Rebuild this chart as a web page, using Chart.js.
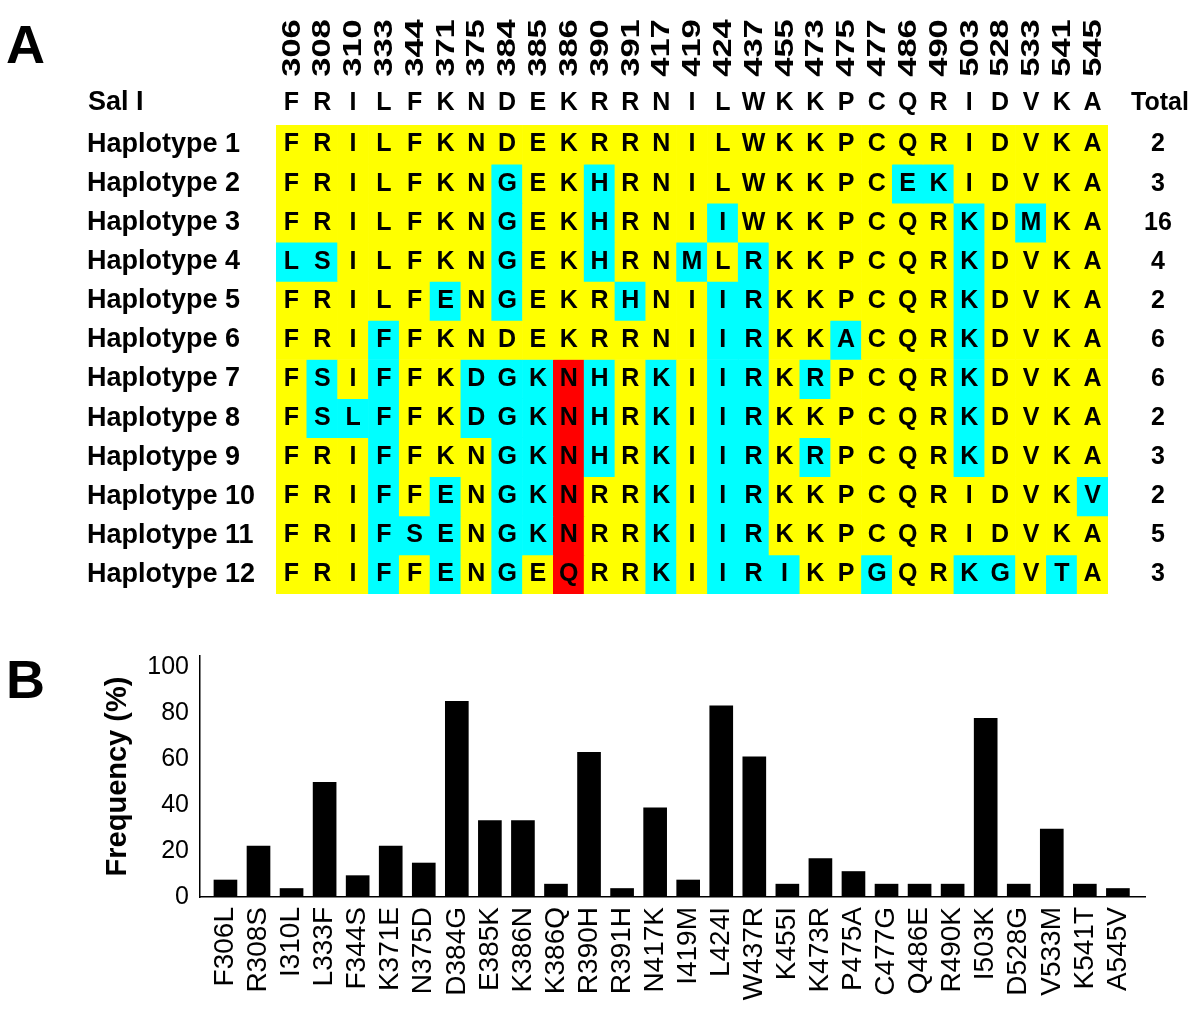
<!DOCTYPE html>
<html>
<head>
<meta charset="utf-8">
<script src="https://cdn.jsdelivr.net/npm/chart.js"></script>
<style>
  body { margin: 0; background: #fff; }
  #wrap { position: relative; width: 1200px; height: 1014px; }
  canvas { position: absolute; left: 0; }
  #tableChart { top: 0; }
  #freqChart { top: 620px; }
</style>
</head>
<body>
<div id="wrap">
  <canvas id="tableChart" width="1200" height="620"></canvas>
  <canvas id="freqChart" width="1200" height="394"></canvas>
</div>
<script>
// Panel A data
const positions = ['306','308','310','333','344','371','375','384','385','386','390','391','417','419','424','437','455','473','475','477','486','490','503','528','533','541','545'];
const salI = 'FRILFKNDEKRRNILWKKPCQRIDVKA'.split('');
const haplotypes = ['Haplotype 1','Haplotype 2','Haplotype 3','Haplotype 4','Haplotype 5','Haplotype 6',
                    'Haplotype 7','Haplotype 8','Haplotype 9','Haplotype 10','Haplotype 11','Haplotype 12'];
const sequences = [
    'FRILFKNDEKRRNILWKKPCQRIDVKA',
    'FRILFKNGEKHRNILWKKPCEKIDVKA',
    'FRILFKNGEKHRNIIWKKPCQRKDMKA',
    'LSILFKNGEKHRNMLRKKPCQRKDVKA',
    'FRILFENGEKRHNIIRKKPCQRKDVKA',
    'FRIFFKNDEKRRNIIRKKACQRKDVKA',
    'FSIFFKDGKNHRKIIRKRPCQRKDVKA',
    'FSLFFKDGKNHRKIIRKKPCQRKDVKA',
    'FRIFFKNGKNHRKIIRKRPCQRKDVKA',
    'FRIFFENGKNRRKIIRKKPCQRIDVKV',
    'FRIFSENGKNRRKIIRKKPCQRIDVKA',
    'FRIFFENGEQRRKIIRIKPGQRKGVTA'
];
const totals = [2, 3, 16, 4, 2, 6, 6, 2, 3, 2, 5, 3];

// Panel B data
const mutations = ['F306L','R308S','I310L','L333F','F344S','K371E','N375D','D384G','E385K','K386N','K386Q','R390H','R391H','N417K',
                   'I419M','L424I','W437R','K455I','K473R','P475A','C477G','Q486E','R490K','I503K','D528G','V533M','K541T','A545V'];
const frequency = [7.4, 22.2, 3.7, 50, 9.3, 22.2, 14.8, 85.2, 33.3, 33.3, 5.6, 63.0, 3.7, 38.9,
                   7.4, 83.3, 61.1, 5.6, 16.7, 11.1, 5.6, 5.6, 5.6, 77.8, 5.6, 29.6, 5.6, 3.7];

Chart.defaults.font.family = '"Liberation Sans", Arial, Helvetica, sans-serif';
Chart.defaults.color = '#000';

function cellColor(letter, i) {
    if (letter === salI[i]) return '#ffff00';
    return positions[i] === '386' ? '#ff0000' : '#00ffff';
}

const rowDatasets = sequences.map((seq, r) => {
    let letters = seq.split('');
    return {
        data: letters.map((ch, i) => ({ x: i, y: [r, r + 1] })),
        backgroundColor: letters.map((ch, i) => cellColor(ch, i)),
        borderWidth: 0,
        grouped: false,
        barPercentage: 1,
        categoryPercentage: 1
    };
});

// draws the letters, headings and totals on top of the cells
const tableText = {
    id: 'tableText',
    afterDatasetsDraw(chart) {
        const ctx = chart.ctx;
        const xs = chart.scales.x, ys = chart.scales.y;
        ctx.save();
        ctx.fillStyle = '#000';

        ctx.font = 'bold 54px "Liberation Sans", Arial';
        ctx.textAlign = 'left';
        ctx.textBaseline = 'alphabetic';
        ctx.fillText('A', 6, 63);
        ctx.textBaseline = 'middle';

        // rotated position numbers (the original font is tall and narrow)
        ctx.font = 'bold 26px "Liberation Sans", Arial';
        positions.forEach((p, i) => {
            ctx.save();
            ctx.translate(xs.getPixelForValue(i) + 1, 48);
            ctx.rotate(-Math.PI / 2);
            ctx.scale(1.33, 1);
            ctx.textAlign = 'center';
            ctx.fillText(p, 0, 0);
            ctx.restore();
        });

        // reference row
        ctx.font = 'bold 27px "Liberation Sans", Arial';
        ctx.textAlign = 'left';
        ctx.fillText('Sal I', 88, 103);
        ctx.font = 'bold 25px "Liberation Sans", Arial';
        ctx.textAlign = 'center';
        salI.forEach((ch, i) => ctx.fillText(ch, xs.getPixelForValue(i), 103));
        ctx.fillText('Total', 1160, 103);

        sequences.forEach((seq, r) => {
            let y = ys.getPixelForValue(r + 0.5);
            ctx.font = 'bold 27px "Liberation Sans", Arial';
            ctx.textAlign = 'left';
            ctx.fillText(haplotypes[r], 87, y);
            ctx.font = 'bold 25px "Liberation Sans", Arial';
            ctx.textAlign = 'center';
            seq.split('').forEach((ch, i) => ctx.fillText(ch, xs.getPixelForValue(i), y));
            ctx.fillText(String(totals[r]), 1158, y);
        });
        ctx.restore();
    }
};

new Chart(document.getElementById('tableChart').getContext('2d'), {
    type: 'bar',
    data: { datasets: rowDatasets },
    options: {
        responsive: false,
        animation: false,
        layout: { padding: { left: 276, right: 92, top: 125, bottom: 26 } },
        plugins: { legend: { display: false }, tooltip: { enabled: false } },
        scales: {
            x: { type: 'linear', min: -0.5, max: 26.5, offset: false, display: false },
            y: { type: 'linear', min: 0, max: 12, reverse: true, display: false }
        }
    },
    plugins: [tableText]
});

const panelLabelB = {
    id: 'panelLabelB',
    afterDraw(chart) {
        const ctx = chart.ctx;
        ctx.save();
        ctx.fillStyle = '#000';
        ctx.font = 'bold 54px "Liberation Sans", Arial';
        ctx.textBaseline = 'alphabetic';
        ctx.fillText('B', 6, 78);
        ctx.restore();
    }
};

new Chart(document.getElementById('freqChart').getContext('2d'), {
    type: 'bar',
    data: {
        datasets: [{
            data: frequency.map((v, i) => ({ x: i, y: v })),
            backgroundColor: '#000',
            borderWidth: 0,
            barThickness: 23
        }]
    },
    options: {
        responsive: false,
        animation: false,
        layout: { padding: { left: 0, right: 55, top: 36, bottom: 0 } },
        plugins: { legend: { display: false }, tooltip: { enabled: false } },
        scales: {
            x: {
                type: 'linear',
                min: -0.77,
                max: 27.82,
                offset: false,
                afterFit(s) { s.height = 117; },
                afterBuildTicks(s) { s.ticks = mutations.map((m, i) => ({ value: i })); },
                grid: { display: false, drawTicks: false },
                border: { color: '#000', width: 1.5 },
                ticks: {
                    autoSkip: false,
                    maxRotation: 90,
                    minRotation: 90,
                    padding: 10,
                    font: { size: 28 },
                    callback: (v) => mutations[v]
                }
            },
            y: {
                min: 0,
                max: 105,
                afterFit(s) { s.width = 200; },
                grid: { display: false, drawTicks: true, tickLength: 5, tickColor: '#000' },
                border: { color: '#000', width: 1.5 },
                ticks: { stepSize: 20, includeBounds: false, padding: 6, font: { size: 25 } },
                title: {
                    display: true,
                    text: 'Frequency (%)',
                    font: { size: 29, weight: 'bold' },
                    padding: { top: 101, bottom: 0 }
                }
            }
        }
    },
    plugins: [panelLabelB]
});
</script>
</body>
</html>
